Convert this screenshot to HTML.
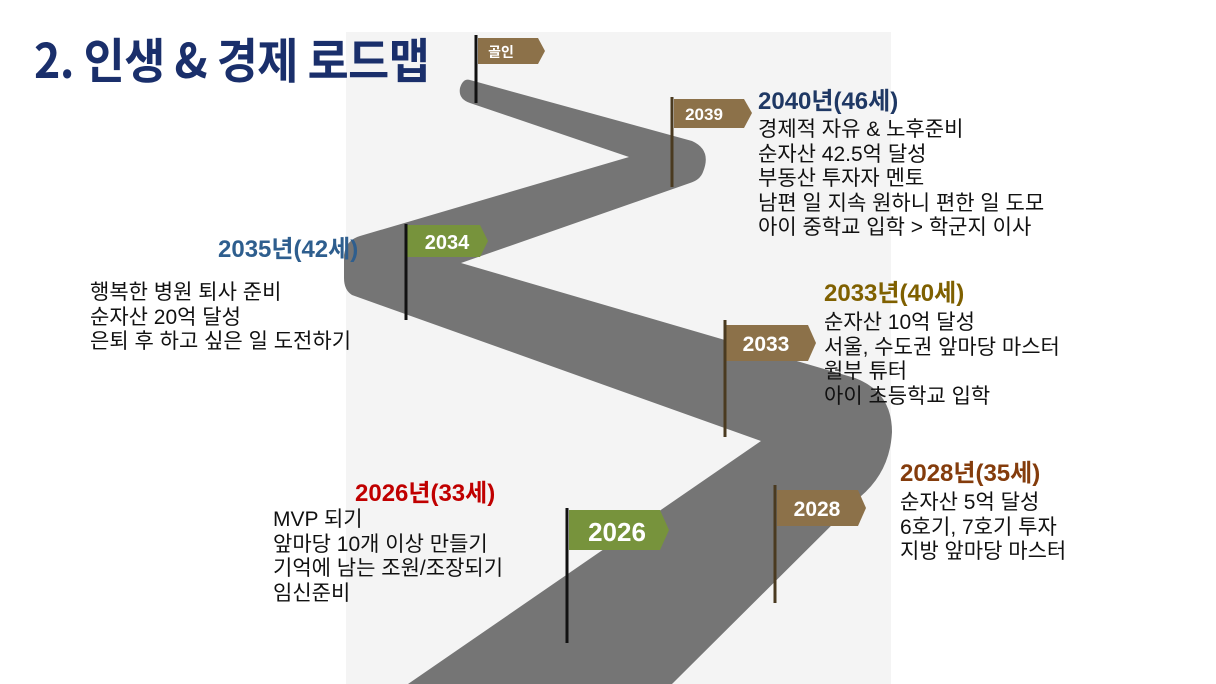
<!DOCTYPE html>
<html><head><meta charset="utf-8"><style>
body{margin:0;width:1216px;height:684px;background:#fff;position:relative;overflow:hidden;font-family:"Liberation Sans","Noto Sans CJK KR",sans-serif;}
.t{position:absolute;white-space:nowrap;}
.h{font-weight:bold;font-size:24px;letter-spacing:0px;}
.b{font-size:21px;line-height:24.5px;color:#111;}
</style></head><body>
<div style="position:absolute;left:346px;top:32px;width:545px;height:652px;background:#f4f4f4"></div>
<svg style="position:absolute;left:0;top:0" width="1216" height="684">
<path d="M470,80 L692,141 Q712,150 703,172 Q700,180 690,183 L461,263 L855,378 Q892,392 892,432 Q890,472 860,497 L672,684 L408,684 L761,441 L352,295 Q344,290 344,278 L344,255 Q346,240 360,236 L629,157 L470,103 Q458,99 460,88 Q463,78 470,80 Z" fill="#757575"/>
<g font-family="Liberation Sans, Noto Sans CJK KR, sans-serif" fill="#fff" text-anchor="middle" font-weight="bold">
<polygon points="478,38 538,38 545,51 538,64 478,64" fill="#8c7149"/>
<text x="501" y="57" font-size="14">골인</text>
<line x1="476" y1="35" x2="476" y2="103" stroke="#111" stroke-width="3"/>
<polygon points="674,99 744,99 752,113 744,128 674,128" fill="#8c7149"/>
<text x="704" y="120" font-size="17">2039</text>
<line x1="672" y1="97" x2="672" y2="187" stroke="#4a3a20" stroke-width="3"/>
<polygon points="407,225 480,225 488,241 480,257 407,257" fill="#77933c"/>
<text x="447" y="249" font-size="20">2034</text>
<line x1="406" y1="224" x2="406" y2="320" stroke="#111" stroke-width="3"/>
<polygon points="726,325 808,325 816,343 808,361 726,361" fill="#8c7149"/>
<text x="766" y="351" font-size="21">2033</text>
<line x1="725" y1="320" x2="725" y2="437" stroke="#4a3a20" stroke-width="3"/>
<polygon points="777,490 858,490 866,508 858,526 777,526" fill="#8c7149"/>
<text x="817" y="516" font-size="21">2028</text>
<line x1="775" y1="485" x2="775" y2="603" stroke="#4a3a20" stroke-width="3"/>
<polygon points="569,510 660,510 669,530 660,550 569,550" fill="#77933c"/>
<text x="617" y="541" font-size="26">2026</text>
<line x1="567" y1="508" x2="567" y2="643" stroke="#111" stroke-width="3"/>
</g>
</svg>
<div class="t" style="left:34px;top:22px;font-size:48px;font-weight:bold;color:#1a2f6b;letter-spacing:-0.5px;transform:scaleX(0.93);transform-origin:left top;font-family:'Noto Sans CJK KR',sans-serif">2. 인생 &amp; 경제 로드맵</div>
<div class="t h" style="left:758px;top:81px;color:#1f3864">2040년(46세)</div>
<div class="t b" style="left:758px;top:118px">경제적 자유 &amp; 노후준비<br>순자산 42.5억 달성<br>부동산 투자자 멘토<br>남편 일 지속 원하니 편한 일 도모<br>아이 중학교 입학 &gt; 학군지 이사</div>
<div class="t h" style="left:218px;top:229px;color:#2e5e8e">2035년(42세)</div>
<div class="t b" style="left:90px;top:281px">행복한 병원 퇴사 준비<br>순자산 20억 달성<br>은퇴 후 하고 싶은 일 도전하기</div>
<div class="t h" style="left:824px;top:273px;color:#7f6000">2033년(40세)</div>
<div class="t b" style="left:824px;top:311px">순자산 10억 달성<br>서울, 수도권 앞마당 마스터<br>월부 튜터<br>아이 초등학교 입학</div>
<div class="t h" style="left:900px;top:453px;color:#843c0c">2028년(35세)</div>
<div class="t b" style="left:900px;top:491px">순자산 5억 달성<br>6호기, 7호기 투자<br>지방 앞마당 마스터</div>
<div class="t h" style="left:355px;top:473px;color:#c00000">2026년(33세)</div>
<div class="t b" style="left:273px;top:508px">MVP 되기<br>앞마당 10개 이상 만들기<br>기억에 남는 조원/조장되기<br>임신준비</div>
</body></html>
